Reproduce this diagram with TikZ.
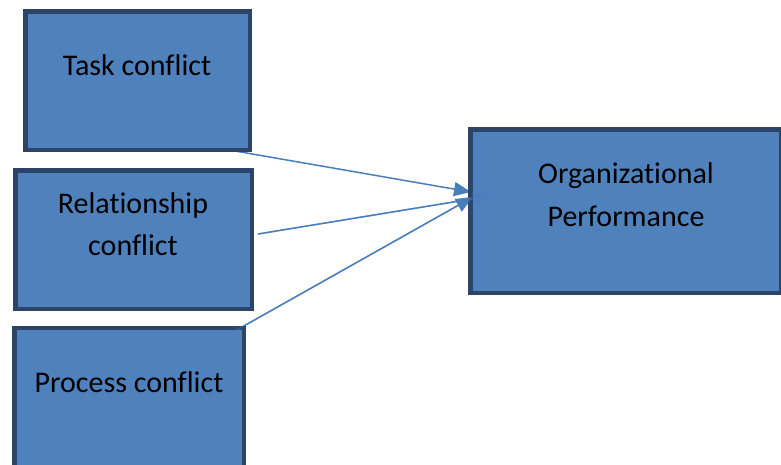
\documentclass[tikz,border=0pt]{standalone}
\usepackage{fontspec}
\setmainfont{Carlito}[Ligatures=NoCommon]
\usetikzlibrary{arrows.meta}
\definecolor{boxfill}{HTML}{4F81BD}
\definecolor{boxline}{HTML}{2B4468}
\definecolor{arrowc}{HTML}{4A7EBB}
\begin{document}
\begin{tikzpicture}[x=1pt,y=-1pt,
  box/.style={rectangle,draw=boxline,fill=boxfill,line width=4.5pt,inner sep=0pt,outer sep=0pt},
  lbl/.style={font=\fontsize{30}{42}\selectfont,inner sep=0pt,anchor=base,align=center,text=black},
  conn/.style={draw=arrowc,line width=1.5pt,-{Triangle[length=17pt,width=14pt]}},
  faint/.style={conn,opacity=0.4}]
\useasboundingbox (0,0) rectangle (781,464);
% connector end points
\coordinate (tA) at (235,151);
\coordinate (tB) at (471,192);
\coordinate (rA) at (258,234);
\coordinate (rB) at (490,196);
\coordinate (pA) at (107,403);
\coordinate (pB) at (473,197);
% connectors (under the boxes)
\draw[conn] (tA) -- (tB);
\draw[conn] (rA) -- (rB);
\draw[conn] (pA) -- (pB);
% boxes
\node[box,minimum width=224.5pt,minimum height=138.5pt] (task) at (137.5,80.5) {};
\node[box,minimum width=236.5pt,minimum height=138.5pt] (rel) at (133.5,239.5) {};
\node[box,minimum width=229.5pt,minimum height=146pt] (proc) at (129,401) {};
\node[box,minimum width=310.5pt,minimum height=163.5pt] (org) at (625.5,211) {};
% faint parts of the connectors seen through the boxes
\draw[faint] (rA) -- (rB);
\draw[faint] (pA) -- (pB);
% texts
\node[lbl] (taskt) at (137,75) {Task conflict};
\node[lbl] (relt1) at (133,213) {Relationship};
\node[lbl] (relt2) at (133,255) {conflict};
\node[lbl] (proct) at (129,392) {Process conflict};
\node[lbl] (orgt1) at (626,183) {Organizational};
\node[lbl] (orgt2) at (626,226) {Performance};
\end{tikzpicture}
\end{document}
